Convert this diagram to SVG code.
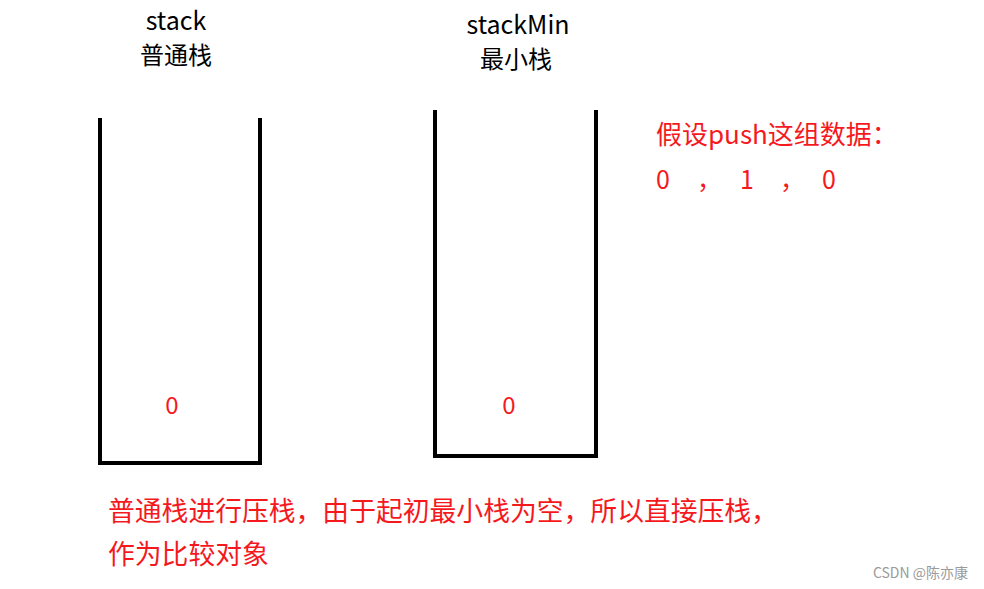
<svg xmlns="http://www.w3.org/2000/svg" width="984" height="589" viewBox="0 0 984 589">
<style>
text{font-family:"Noto Sans CJK SC","Noto Sans",sans-serif}
.lbl{fill:#000;font-size:25px;text-anchor:middle}
.cjk{fill:#000;font-size:24px;text-anchor:middle}
.red{fill:#f5191e}
.stk{fill:none;stroke:#000;stroke-width:4;stroke-linejoin:miter;stroke-linecap:butt}
</style>
<rect width="984" height="589" fill="#fff"/>
<g id="stack">
<path class="stk" d="M100,118 V463 H260 V118"/>
<text class="lbl" x="176" y="30">stack</text>
<text class="cjk" x="176" y="64">普通栈</text>
<text class="red" x="172" y="414" font-size="24" text-anchor="middle">0</text>
</g>
<g id="stackMin">
<path class="stk" d="M435,110 V456 H596 V110"/>
<text class="lbl" x="518" y="34">stackMin</text>
<text class="cjk" x="516" y="68">最小栈</text>
<text class="red" x="509" y="414" font-size="24" text-anchor="middle">0</text>
</g>
<g id="data">
<text class="red" x="656" y="144" font-size="26">假设push这组数据：</text>
<text class="red" font-size="25" y="189"><tspan x="656">0</tspan><tspan x="697">，</tspan><tspan x="740">1</tspan><tspan x="780">，</tspan><tspan x="822">0</tspan></text>
</g>
<g id="note">
<text class="red" x="108" y="521" font-size="26.8">普通栈进行压栈，由于起初最小栈为空，所以直接压栈，</text>
<text class="red" x="108" y="564" font-size="26.8">作为比较对象</text>
</g>
<g id="connectors"></g>
<text x="968" y="578" font-size="14" fill="#9a9a9a" text-anchor="end">CSDN @陈亦康</text>
</svg>
